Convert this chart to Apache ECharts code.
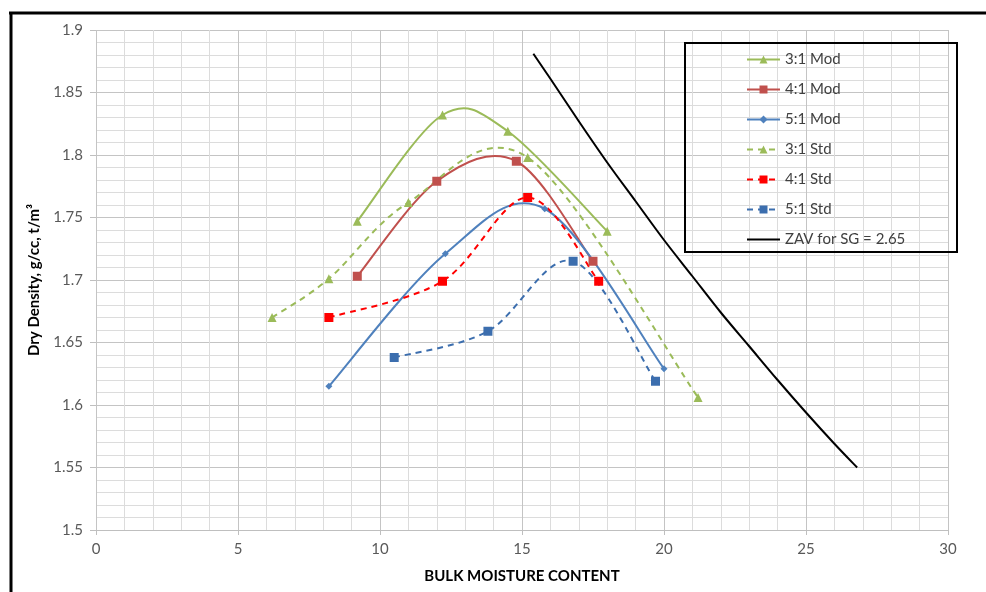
<!DOCTYPE html>
<html><head><meta charset="utf-8">
<script src="https://cdn.jsdelivr.net/npm/echarts@6/dist/echarts.min.js"></script>
<style>html,body{margin:0;padding:0;background:#fff}#c{width:986px;height:592px}</style>
</head><body><div id="c"></div>
<script>
const mod31 = [[9.2,1.747],[12.2,1.832],[14.5,1.819],[18.0,1.739]];
const mod41 = [[9.2,1.703],[12.0,1.779],[14.8,1.795],[17.5,1.715]];
const mod51 = [[8.2,1.615],[12.3,1.721],[15.8,1.757],[20.0,1.629]];
const std31 = [[6.2,1.670],[8.2,1.701],[11.0,1.762],[15.2,1.798],[21.2,1.606]];
const std41 = [[8.2,1.670],[12.2,1.699],[15.2,1.766],[17.7,1.699]];
const std51 = [[10.5,1.638],[13.8,1.659],[16.8,1.715],[19.7,1.619]];
const zav = [[15.4,1.881],[16,1.861],[17,1.827],[18,1.794],[19,1.763],[20,1.732],[21,1.703],[22,1.674],[23,1.647],[24,1.620],[25,1.594],[26,1.569],[26.8,1.550]];
const names = ['3:1 Mod','4:1 Mod','5:1 Mod','3:1 Std','4:1 Std','5:1 Std','ZAV for SG = 2.65'];

const green='#9BBB59', brown='#C0504D', blue='#4F81BD', red='#FF0000', blue2='#3C6EAE';

// Excel-like smoothed curve (Catmull-Rom -> cubic Bezier) through the data, via the axis scales
function curve(name, data, color, dashed, z){
  return {name, type:'custom', data:[0], silent:true, z:z||2,
    renderItem:function(params, api){
      const p = data.map(d => api.coord(d));
      const n = p.length;
      let d = 'M' + p[0][0] + ' ' + p[0][1];
      for (let i = 0; i < n-1; i++){
        const p0 = p[Math.max(i-1,0)], p1 = p[i], p2 = p[i+1], p3 = p[Math.min(i+2,n-1)];
        const c1 = [p1[0] + (p2[0]-p0[0])/6, p1[1] + (p2[1]-p0[1])/6];
        const c2 = [p2[0] - (p3[0]-p1[0])/6, p2[1] - (p3[1]-p1[1])/6];
        d += ' C' + c1[0] + ' ' + c1[1] + ' ' + c2[0] + ' ' + c2[1] + ' ' + p2[0] + ' ' + p2[1];
      }
      return {type:'path', shape:{pathData:d},
        style:{fill:'none', stroke:color, lineWidth:2, lineDash:dashed?[6,5]:null}};
    }};
}
function marks(name,data,color,symbol,size,dashed){
  return {name,type:'line',data,symbol,symbolSize:size,showSymbol:true,
    lineStyle:{color,width:2,type:dashed?[6,5]:'solid',opacity:0},itemStyle:{color},
    emphasis:{disabled:true},z:4};
}
function legendItem(name){ return {name, lineStyle:{opacity:1}}; }

const chart = echarts.init(document.getElementById('c'),null,{renderer:'canvas'});
chart.setOption({
  animation:false,
  backgroundColor:'#fff',
  textStyle:{fontFamily:'Lato, "Open Sans", sans-serif'},
  grid:{left:96,right:38,top:30,bottom:62},
  xAxis:{type:'value',min:0,max:30,interval:5,
    name:'BULK MOISTURE CONTENT',nameLocation:'middle',nameGap:39,
    nameTextStyle:{fontWeight:'bold',fontSize:15,color:'#000'},
    axisLine:{show:true,lineStyle:{color:'#bfbfbf'}},
    axisTick:{show:true,length:5,lineStyle:{color:'#bfbfbf'}},
    axisLabel:{fontSize:15,color:'#595959',margin:12},
    splitLine:{show:true,lineStyle:{color:'#c4c4c4',width:1}},
    minorTick:{show:false,splitNumber:5},
    minorSplitLine:{show:true,lineStyle:{color:'#dcdcdc',width:1}}},
  yAxis:{type:'value',min:1.5,max:1.9,interval:0.05,
    name:'Dry Density, g/cc, t/m³',nameLocation:'middle',nameGap:54,nameRotate:90,
    nameTextStyle:{fontWeight:'bold',fontSize:15,color:'#000'},
    axisLine:{show:false},
    axisTick:{show:true,length:6,lineStyle:{color:'#bfbfbf'}},
    axisLabel:{fontSize:15,color:'#595959',margin:13},
    splitLine:{show:true,lineStyle:{color:'#c4c4c4',width:1}},
    minorTick:{show:false,splitNumber:5},
    minorSplitLine:{show:true,lineStyle:{color:'#dcdcdc',width:1}}},
  legend:{orient:'vertical',left:741,top:47,itemWidth:33,itemHeight:10,itemGap:15,
    data:[legendItem(names[0]),legendItem(names[1]),legendItem(names[2]),legendItem(names[3]),
          legendItem(names[4]),legendItem(names[5]),{name:names[6],lineStyle:{opacity:1},itemStyle:{opacity:0}}],
    textStyle:{fontSize:15,color:'#404040'}},
  graphic:[
    {type:'rect',shape:{x:685,y:43,width:272,height:209},style:{fill:'none',stroke:'#000',lineWidth:2},z:10},
    {type:'line',shape:{x1:9,y1:13,x2:986,y2:13},style:{stroke:'#000',lineWidth:3},z:10},
    {type:'line',shape:{x1:11,y1:12,x2:11,y2:592},style:{stroke:'#000',lineWidth:3},z:10}
  ],
  series:[
    marks(names[0],mod31,green,'triangle',9,false),
    marks(names[1],mod41,brown,'rect',9,false),
    marks(names[2],mod51,blue,'diamond',7,false),
    marks(names[3],std31,green,'triangle',9,true),
    marks(names[4],std41,red,'rect',9,true),
    marks(names[5],std51,blue2,'rect',9,true),
    {name:names[6],type:'line',data:zav,symbol:'circle',symbolSize:0,showSymbol:false,
     lineStyle:{color:'#000',width:2,opacity:0},itemStyle:{color:'#000'},emphasis:{disabled:true}},
    curve(names[0],mod31,green,false),
    curve(names[1],mod41,brown,false),
    curve(names[2],mod51,blue,false),
    curve(names[3],std31,green,true),
    curve(names[4],std41,red,true),
    curve(names[5],std51,blue2,true),
    curve(names[6],zav,'#000',false)
  ]
});
</script></body></html>
